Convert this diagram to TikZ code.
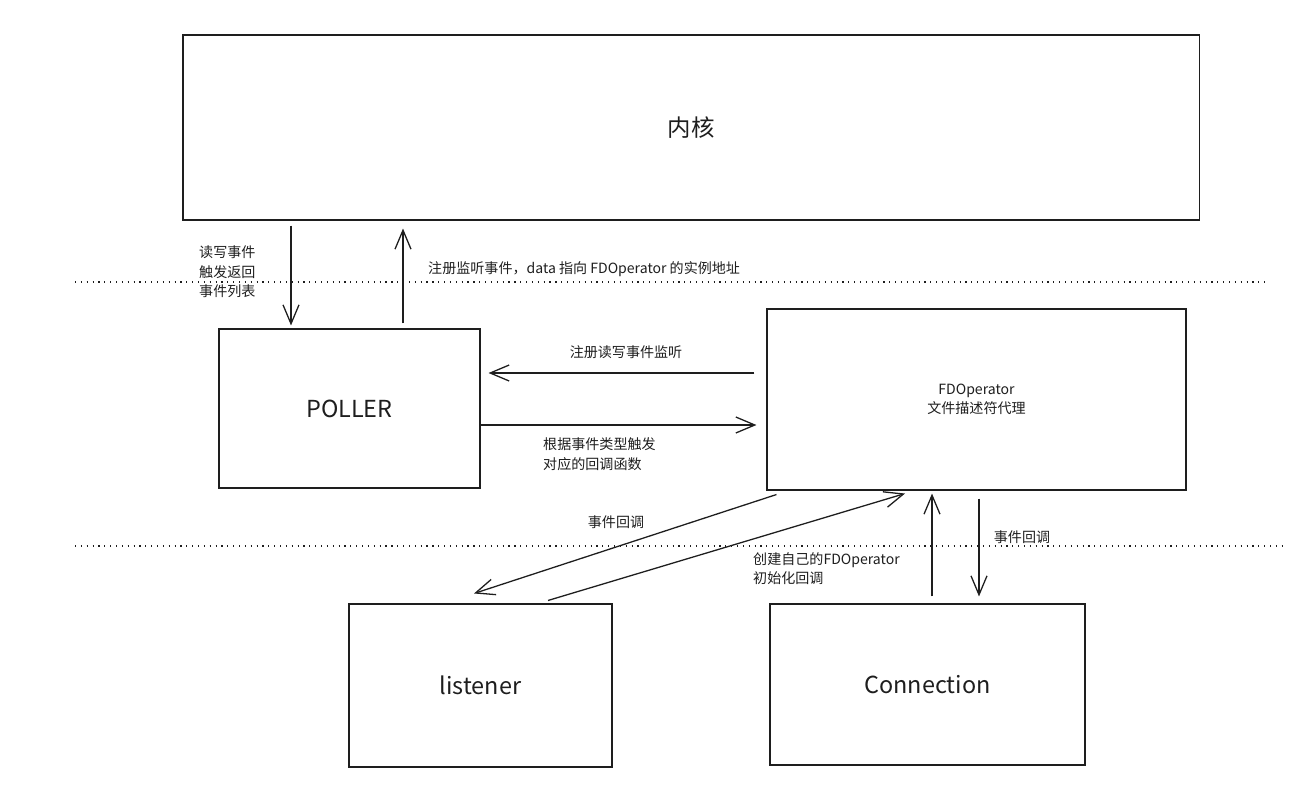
\documentclass[tikz,border=0pt]{standalone}
\usepackage{fontspec}
\setmainfont{Noto Sans CJK SC}
\usetikzlibrary{arrows.meta}
\definecolor{ink}{HTML}{1E1E1E}
\tikzset{box/.style={draw=ink,line width=0.9pt,inner sep=0pt},
  arr/.style={draw=ink,line width=1.1pt,-{Straight Barb[length=5.7mm,width=4.8mm]}},
  lbl/.style={font=\fontsize{12}{16.6}\selectfont,align=left,text=ink,inner sep=0pt},
  big/.style={font=\fontsize{20}{24}\selectfont,text=ink}}

\begin{document}
\begin{tikzpicture}[x=0.03cm,y=-0.03cm]
        \useasboundingbox (0,0) rectangle (1315,804);
        % 方框
        \node[box,big,minimum width=30.48cm,minimum height=5.55cm] (kernel) at (691,127.5) {内核};
        \node[box,big,minimum width=7.83cm,minimum height=4.77cm] (poller) at (349.5,408.5) {POLLER};
        \node[box,lbl,align=center,minimum width=12.57cm,minimum height=5.43cm] (fdop) at (976.5,399.5) {FDOperator\\文件描述符代理};
        \node[box,big,minimum width=7.89cm,minimum height=4.89cm] (listener) at (480.5,685.5) {listener};
        \node[box,big,minimum width=9.45cm,minimum height=4.83cm] (conn) at (927.5,684.5) {Connection};
        % 虚线
        \draw[ink,line width=0.9pt,dash pattern=on 1pt off 4pt] (75,282)--(1265,282);
        \draw[ink,line width=0.9pt,dash pattern=on 1pt off 4pt] (75,546)--(1285,546);
        % 内核 <-> POLLER
        \draw[arr] ([shift={(-400,5)}]kernel.south)--([shift={(-58.5,-3)}]poller.north);
        \draw[arr] ([shift={(53.5,-5)}]poller.north)--([shift={(-288,8)}]kernel.south);
        \node[lbl,anchor=west] (l1) at (199,272) {读写事件\\触发返回\\事件列表};
        \node[lbl,anchor=west] (l2) at (428,269) {注册监听事件，data 指向 FDOperator 的实例地址};
        % POLLER <-> FDOperator
        \draw[arr] ([shift={(-12,-26.5)}]fdop.west)--([shift={(8,-35.5)}]poller.east);
        \draw[arr] ([shift={(0,16.5)}]poller.east)--([shift={(-10,25.5)}]fdop.west);
        \node[lbl] (l3) at (626,352) {注册读写事件监听};
        \node[lbl,anchor=west] (l4) at (543,454) {根据事件类型触发\\对应的回调函数};
        % FDOperator <-> listener, Connection
        \draw[arr] ([shift={(10,4)}]fdop.south west)--([shift={(-6.5,-10)}]listener.north);
        \draw[arr] ([shift={(67.5,-3)}]listener.north)--([shift={(-71.5,3)}]fdop.south);
        \draw[arr] ([shift={(4.5,-7)}]conn.north)--([shift={(-44.5,3)}]fdop.south);
        \draw[arr] ([shift={(2.5,8)}]fdop.south)--([shift={(51.5,-7)}]conn.north);
        \node[lbl] (l5) at (616,522) {事件回调};
        \node[lbl,anchor=west] (l6) at (753,568.5) {创建自己的FDOperator\\初始化回调};
        \node[lbl] (l7) at (1022,537) {事件回调};
\end{tikzpicture}
\end{document}
